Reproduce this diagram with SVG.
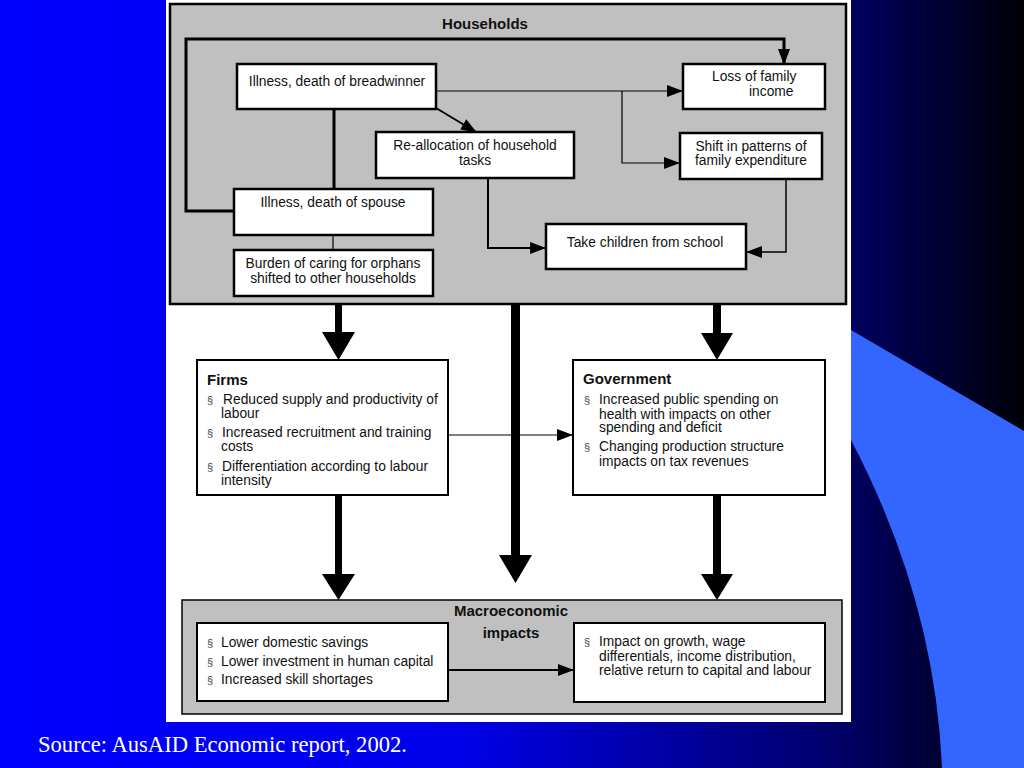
<svg xmlns="http://www.w3.org/2000/svg" width="1024" height="768" viewBox="0 0 1024 768">
<defs>
<linearGradient id="bg" x1="0" y1="0" x2="1" y2="0">
<stop offset="0" stop-color="#0000ff"/>
<stop offset="0.45" stop-color="#0000e8"/>
<stop offset="0.8" stop-color="#000070"/>
<stop offset="1" stop-color="#000008"/>
</linearGradient>
<marker id="ah" markerUnits="userSpaceOnUse" markerWidth="16" markerHeight="12" refX="15" refY="6" orient="auto" viewBox="0 0 16 12">
<path d="M0,0 L16,6 L0,12 Z" fill="#000"/>
</marker>
<style>
.box{fill:#fff;stroke:#000;stroke-width:2.5}
.panel{fill:#c0c0c0;stroke:#000;stroke-width:2.5}
.t{font-family:"Liberation Sans",Arial,sans-serif;font-size:13.8px;fill:#111}
.c{text-anchor:middle}
.b{font-weight:bold;font-size:15px}
.bul{font-family:"Liberation Sans",Arial,sans-serif;font-size:11px;fill:#444}
.ln{fill:none;stroke:#000}
</style>
</defs>
<rect x="0" y="0" width="1024" height="768" fill="url(#bg)"/>
<path d="M851,330 L1024,431 L1024,768 L942,768 Q935,600 851,440 Z" fill="#3366ff"/>
<rect x="166" y="0" width="685" height="722" fill="#fff"/>

<g id="households">
<rect class="panel" x="170" y="4" width="676" height="300"/>
<text class="t b c" x="485" y="29">Households</text>
</g>
<g id="breadwinner">
<rect class="box" x="237" y="64" width="199" height="45"/>
<text class="t c" x="337" y="86">Illness, death of breadwinner</text>
</g>
<g id="loss-income">
<rect class="box" x="683" y="64" width="142" height="45"/>
<text class="t" x="712" y="81">Loss of family</text>
<text class="t" x="749" y="96">income</text>
</g>
<g id="reallocation">
<rect class="box" x="376" y="132" width="198" height="46"/>
<text class="t c" x="475" y="150">Re-allocation of household</text>
<text class="t c" x="475" y="165">tasks</text>
</g>
<g id="shift">
<rect class="box" x="680" y="133" width="142" height="46"/>
<text class="t c" x="751" y="151">Shift in patterns of</text>
<text class="t c" x="751" y="165">family expenditure</text>
</g>
<g id="spouse">
<rect class="box" x="234" y="189" width="199" height="46"/>
<text class="t c" x="333" y="207">Illness, death of spouse</text>
</g>
<g id="burden">
<rect class="box" x="234" y="250" width="199" height="46"/>
<text class="t c" x="333" y="268">Burden of caring for orphans</text>
<text class="t c" x="333" y="283">shifted to other households</text>
</g>
<g id="take-children">
<rect class="box" x="546" y="224" width="200" height="45"/>
<text class="t c" x="645" y="247">Take children from school</text>
</g>

<g id="firms">
<rect class="box" x="197" y="360" width="251" height="135" style="stroke-width:2"/>
<text class="t b" x="207" y="385">Firms</text>
<text class="bul" x="207" y="404">§</text>
<text class="t" x="223" y="404">Reduced supply and productivity of</text>
<text class="t" x="221" y="418">labour</text>
<text class="bul" x="207" y="437">§</text>
<text class="t" x="222" y="437">Increased recruitment and training</text>
<text class="t" x="221" y="451">costs</text>
<text class="bul" x="207" y="471">§</text>
<text class="t" x="222" y="471">Differentiation according to labour</text>
<text class="t" x="221" y="485">intensity</text>
</g>
<g id="government">
<rect class="box" x="573" y="360" width="252" height="135" style="stroke-width:2"/>
<text class="t b" x="583" y="384">Government</text>
<text class="bul" x="584" y="404">§</text>
<text class="t" x="599" y="404">Increased public spending on</text>
<text class="t" x="599" y="418.5">health with impacts on other</text>
<text class="t" x="599" y="432">spending and deficit</text>
<text class="bul" x="584" y="451">§</text>
<text class="t" x="599" y="451">Changing production structure</text>
<text class="t" x="599" y="466">impacts on tax revenues</text>
</g>
<g id="macro">
<rect class="panel" x="182" y="600" width="660" height="114" style="stroke-width:1.5"/>
<text class="t b c" x="511" y="616">Macroeconomic</text>
<text class="t b c" x="511" y="638">impacts</text>
</g>
<g id="macro-left">
<rect class="box" x="197" y="623" width="251" height="78" style="stroke-width:2"/>
<text class="bul" x="207" y="647">§</text>
<text class="t" x="221" y="647">Lower domestic savings</text>
<text class="bul" x="207" y="665.5">§</text>
<text class="t" x="221" y="665.5">Lower investment in human capital</text>
<text class="bul" x="207" y="684">§</text>
<text class="t" x="221" y="684">Increased skill shortages</text>
</g>
<g id="macro-right">
<rect class="box" x="574" y="623" width="251" height="79" style="stroke-width:2"/>
<text class="bul" x="584" y="646">§</text>
<text class="t" x="599" y="646">Impact on growth, wage</text>
<text class="t" x="599" y="660.5">differentials, income distribution,</text>
<text class="t" x="599" y="674.5">relative return to capital and labour</text>
</g>

<g id="connectors">
<path class="ln" d="M234,211 H186 V39 H784 V64" stroke-width="3" marker-end="url(#ah)"/>
<path class="ln" d="M436,91 H682" stroke-width="1.2" marker-end="url(#ah)"/>
<path class="ln" d="M622,91 V163 H679" stroke-width="1.2" marker-end="url(#ah)"/>
<path class="ln" d="M436,108 L476,132" stroke-width="2" marker-end="url(#ah)"/>
<path class="ln" d="M334,109 V189" stroke-width="3"/>
<path class="ln" d="M333,235 V250" stroke-width="1.2"/>
<path class="ln" d="M488,178 V248 H545" stroke-width="2" marker-end="url(#ah)"/>
<path class="ln" d="M786,179 V252 H747" stroke-width="1.5" marker-end="url(#ah)"/>
<path class="ln" d="M448,435 H572" stroke-width="1.2" marker-end="url(#ah)"/>
<path class="ln" d="M448,670 H573" stroke-width="2" marker-end="url(#ah)"/>
<polygon points="335,304 342,304 342,332 355,332 338.5,360 322,332 335,332" fill="#000"/>
<polygon points="713,304 721,304 721,333 733,333 717,360 701,333 713,333" fill="#000"/>
<polygon points="511,304 520,304 520,555 532,555 515.5,583 499,555 511,555" fill="#000"/>
<polygon points="335,495 342,495 342,574 355,574 338.5,600 322,574 335,574" fill="#000"/>
<polygon points="713,495 721,495 721,574 733,574 717,600 701,574 713,574" fill="#000"/>
</g>
<text x="38" y="752" font-family="'Liberation Serif','Times New Roman',serif" font-size="22.6" fill="#fff">Source: AusAID Economic report, 2002.</text>
</svg>
